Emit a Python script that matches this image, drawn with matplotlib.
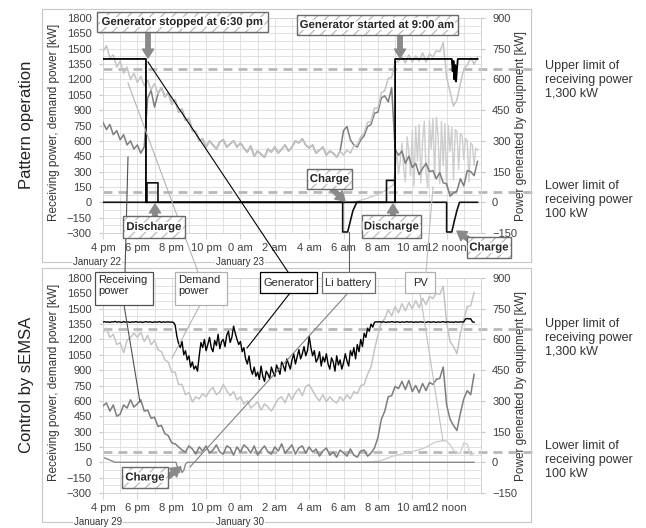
import numpy as np
import matplotlib
matplotlib.use('Agg')
import matplotlib.pyplot as plt
from matplotlib.patches import Rectangle, FancyArrowPatch
from matplotlib.lines import Line2D
from matplotlib.ticker import MultipleLocator
import matplotlib.patheffects as pe
import matplotlib.transforms as mtrans

plt.rcParams['font.family'] = ['Liberation Sans', 'DejaVu Sans']

# hours after 4 pm
hour_ticks = [0, 2, 4, 6, 8, 10, 12, 14, 16, 18, 20]
hour_labels = ['4 pm', '6 pm', '8 pm', '10 pm', '0 am', '2 am', '4 am',
               '6 am', '8 am', '10 am', '12 noon']

# ---------------- pattern operation (Jan 22-23) ----------------
t_top = np.round(np.arange(0, 21.81, 0.2), 1)
demand_top = [1470, 1530, 1410, 1440, 1320, 1380, 1260, 1320, 1200, 1260,
              1170, 1230, 1140, 1190, 1100, 1160, 1060, 1120, 1030, 1070,
              960, 1000, 880, 910, 800, 820, 700, 690, 600, 620,
              540, 600, 560, 520, 590, 610, 540, 570, 600, 540,
              580, 530, 490, 550, 450, 500, 470, 440, 520, 490,
              540, 480, 520, 560, 500, 540, 600, 580, 620, 560,
              530, 560, 480, 510, 540, 460, 500, 480, 440, 500,
              460, 510, 480, 550, 560, 640, 680, 780, 790, 920,
              920, 1070, 1090, 1210, 1220, 1360, 1380, 1420, 1360, 1440,
              1370, 1430, 1380, 1460, 1370, 1450, 1420, 1480, 1470, 1560,
              1220, 1080, 940, 1000, 1160, 1300, 1340, 1410, 1350, 1420]
recv_top = [780, 710, 760, 660, 700, 610, 660, 560, 600, 520,
            560, 480, 540, 1020, 1090, 930, 1060, 1120, 1030, 1070,
            960, 1000, 880, 910, 800, 820, 700, 690, 600, 620,
            540, 600, 560, 520, 590, 610, 540, 570, 600, 540,
            580, 530, 490, 550, 450, 500, 470, 440, 520, 490,
            540, 480, 520, 560, 500, 540, 600, 580, 620, 560,
            530, 560, 480, 510, 540, 460, 500, 480, 440, 500,
            700, 740, 610, 560, 540, 610, 650, 740, 760, 870,
            880, 1020, 1040, 980, 1120, 520, 460, 500, 380, 450,
            340, 380, 270, 330, 380, 300, 310, 230, 290, 190,
            180, 60, 90, 110, 230, 160, 310, 300, 260, 400]
pv_top_t = np.concatenate([[14.6, 15.4, 16.2, 16.9], np.round(np.arange(17.0, 21.85, 0.1), 1)])
pv_top = [0, 20, 45, 85,
          170, 240, 140, 200, 290, 160, 100, 320, 250, 130,
          350, 80, 370, 200, 380, 95, 300, 395, 150, 70,
          400, 260, 410, 120, 415, 330, 90, 395, 180, 385,
          70, 375, 250, 365, 110, 355, 345, 160, 335, 325,
          210, 312, 300, 100, 290, 280, 180, 265, 255]
gen_top_t = [0, 2.5, 2.5, 17.0, 17.0, 20.3, 20.35, 20.4, 20.45, 20.5, 20.55, 20.6, 20.65, 21.8]
gen_top = [700, 700, 0, 0, 700, 700, 640, 690, 600, 670, 590, 650, 700, 700]
bat_top_t = [0, 2.56, 2.56, 3.2, 3.2, 13.95, 13.95, 14.24, 14.4, 14.55, 14.77,
             16.5, 16.5, 17.0, 17.0, 20.0, 20.0, 20.3, 20.45, 20.6, 20.75, 21.8]
bat_top = [0, 0, 95, 95, 0, 0, -145, -145, -90, -40, 0,
           0, 107, 107, 0, 0, -145, -145, -90, -40, 0, 0]

# ---------------- control by sEMSA (Jan 29-30) ----------------
t_bot = np.round(np.arange(0, 21.61, 0.2), 1)
recv_bot = [550, 580, 500, 560, 450, 470, 560, 530, 610, 540,
            570, 610, 500, 510, 430, 440, 350, 360, 280, 260,
            190, 180, 150, 120, 100, 160, 130, 80, 150, 110,
            160, 90, 120, 170, 100, 80, 160, 140, 70, 150,
            100, 170, 140, 90, 160, 70, 120, 160, 100, 80,
            150, 110, 180, 90, 130, 170, 80, 140, 160, 90,
            150, 100, 130, 60, 110, 140, 70, 100, 50, 120,
            90, 60, 130, 70, 50, 110, 120, 60, 90, 140,
            240, 420, 500, 640, 650, 740, 720, 790, 710, 800,
            690, 750, 680, 770, 700, 780, 760, 810, 820, 930,
            560, 420, 360, 310, 480, 620, 700, 660, 860]
demand_bot = [1270, 1310, 1220, 1250, 1150, 1170, 1070, 1190, 1220, 1260,
              1220, 1270, 1180, 1240, 1150, 1190, 1100, 1080, 1000, 980,
              880, 880, 760, 760, 660, 680, 590, 640, 620, 670,
              640, 700, 730, 660, 690, 760, 700, 650, 690, 610,
              640, 570, 600, 530, 560, 590, 510, 570, 540, 500,
              560, 620, 640, 580, 670, 610, 680, 720, 650, 740,
              760, 700, 640, 600, 660, 590, 640, 600, 580, 640,
              600, 660, 620, 690, 670, 750, 760, 860, 930, 1100,
              1240, 1370, 1400, 1490, 1430, 1520, 1460, 1550, 1480, 1560,
              1500, 1580, 1510, 1600, 1540, 1620, 1600, 1650, 1640, 1720,
              1360, 1180, 1130, 1060, 1260, 1390, 1520, 1530, 1660]
gen_bot_t = np.round(np.arange(0, 21.61, 0.1), 1)
gen_bot = [685, 687, 684, 686, 683, 686, 685, 688, 684, 686,
           685, 683, 687, 684, 686, 685, 683, 686, 684, 687,
           685, 684, 686, 683, 685, 687, 684, 686, 685, 683,
           686, 684, 685, 687, 683, 686, 684, 685, 686, 684,
           685, 683, 670, 615, 580, 560, 590, 525, 545, 500,
           520, 465, 490, 455, 470, 445, 520, 585, 560, 600,
           545, 575, 610, 560, 540, 595, 570, 625, 555, 590,
           600, 565, 620, 640, 585, 610, 665, 630, 600, 575,
           590, 540, 560, 505, 480, 520, 455, 430, 465, 420,
           440, 405, 470, 420, 395, 445, 430, 410, 465, 440,
           420, 475, 455, 430, 490, 470, 445, 505, 480, 455,
           500, 530, 480, 515, 550, 505, 530, 565, 520, 545,
           615, 560, 520, 545, 490, 505, 540, 470, 515, 490,
           530, 480, 455, 510, 490, 445, 520, 475, 500, 455,
           485, 530, 495, 470, 545, 520, 560, 505, 575, 540,
           600, 565, 630, 610, 655, 640, 675, 660, 684, 686,
           685, 687, 684, 686, 685, 683, 686, 684, 687, 685,
           684, 686, 685, 683, 686, 684, 685, 687, 684, 686,
           685, 683, 686, 684, 685, 686, 684, 685, 683, 686,
           685, 684, 686, 685, 683, 686, 684, 685, 687, 684,
           685, 686, 684, 685, 683, 686, 685, 684, 686, 685,
           686, 700, 702, 700, 701, 686, 684]
pv_bot_t = np.round(np.arange(15.2, 21.61, 0.2), 1)
pv_bot = [0, 1, 2, 4, 6, 9, 15, 22, 28, 33, 36, 41, 44, 49, 52, 57, 62,
          67, 74, 83, 92, 100, 103, 106, 104, 85, 60, 45, 44, 95, 88, 36, 44]
bat_bot_t = [0, 0.7, 4.25, 4.35, 4.45, 4.5, 4.6, 4.7, 4.8, 4.9, 21.6]
bat_bot = [25, 0, 0, -30, -50, -20, -50, -40, -10, 0, 0]

W, H = 646, 528
fig = plt.figure(figsize=(W / 100, H / 100), dpi=100)


def fx(x):
    return x / W


def fy(y):
    return 1 - y / H


tick_col = '#404040'


def setup(ax):
    ax.set_xlim(0, 22)
    ax.set_ylim(-300, 1800)
    ax.set_yticks(np.arange(-300, 1801, 150))
    ax.set_xticks(hour_ticks)
    ax.set_xticklabels(hour_labels)
    ax.xaxis.set_minor_locator(MultipleLocator(1))
    ax.yaxis.set_minor_locator(MultipleLocator(75))
    ax.grid(which='both', color='#dcdcdc', lw=0.6)
    ax.set_axisbelow(True)
    for s in ax.spines.values():
        s.set_color('#d4d4d4')
        s.set_linewidth(0.7)
    ax.tick_params(axis='y', length=3, color='#c8c8c8', pad=5, labelsize=8, labelcolor=tick_col)
    ax.tick_params(axis='x', length=4, color='#d4d4d4', pad=3, labelsize=8, labelcolor=tick_col)
    ax.tick_params(which='minor', length=0)
    ax2 = ax.twinx()
    ax2.set_ylim(-150, 900)
    ax2.set_yticks(np.arange(-150, 901, 150))
    for s in ax2.spines.values():
        s.set_visible(False)
    ax2.tick_params(axis='y', length=3, color='#c8c8c8', pad=5, labelsize=8, labelcolor=tick_col)
    # limit lines, running out past the right axis
    tr = mtrans.blended_transform_factory(ax.transAxes, ax.transData)
    for lim in (1300, 100):
        ax.plot([0, 1.151], [lim, lim], transform=tr, clip_on=False, color='#b8b8b8',
                lw=2, dashes=(3.2, 2.2), zorder=1.8)
    return ax2


ax_top = fig.add_axes([fx(103), fy(233), 378 / W, 215 / H])
ax_bot = fig.add_axes([fx(103), fy(493), 378 / W, 215 / H])
r_top = setup(ax_top)
r_bot = setup(ax_bot)

# top panel
ax_top.plot(pv_top_t, pv_top, color='#cdcdcd', lw=1.0, transform=r_top.transData, zorder=2)
ax_top.plot(t_top, recv_top, color='#7d7d7d', lw=1.1, zorder=3)
ax_top.plot(t_top, demand_top, color='#c4c4c4', lw=1.1, zorder=4)
ax_top.plot(bat_top_t, bat_top, color='#111111', lw=1.2, transform=r_top.transData, zorder=5)
ax_top.plot(gen_top_t, gen_top, color='black', lw=1.3, transform=r_top.transData, zorder=6)

# bottom panel
ax_bot.plot(pv_bot_t, pv_bot, color='#cfcfcf', lw=1.0, transform=r_bot.transData, zorder=2)
ax_bot.plot(bat_bot_t, bat_bot, color='#8a8a8a', lw=1.0, transform=r_bot.transData, zorder=2.5)
ax_bot.plot(t_bot, demand_bot, color='#c4c4c4', lw=1.1, zorder=3)
ax_bot.plot(t_bot, recv_bot, color='#7d7d7d', lw=1.1, zorder=4)
ax_bot.plot(gen_bot_t, gen_bot, color='black', lw=1.0, transform=r_bot.transData, zorder=6)

# panel frames
for y0, y1 in ((9, 262), (268, 522)):
    fig.add_artist(Rectangle((fx(42), fy(y1)), fx(531) - fx(42), fy(y0) - fy(y1),
                             transform=fig.transFigure, fill=False, ec='#c8c8c8', lw=0.8, zorder=1))

# axis titles
for yc, name in ((125, 'Pattern operation'), (385, 'Control by sEMSA')):
    fig.text(fx(26), fy(yc), name, rotation=90, fontsize=12, ha='center', va='center', color='#222222')
for yc in (122, 382):
    fig.text(fx(54), fy(yc), 'Receiving power, demand power [kW]', rotation=90, fontsize=8.5,
             ha='center', va='center', color='#333333')
    fig.text(fx(521), fy(yc + 4), 'Power generated by equipment [kW]', rotation=90, fontsize=8.5,
             ha='center', va='center', color='#333333')

# dates
for (x, y, s) in ((97, 262, 'January 22'), (240, 262, 'January 23'),
                  (98, 522, 'January 29'), (240, 522, 'January 30')):
    fig.text(fx(x), fy(y), s, fontsize=7, ha='center', va='center', color='#333333',
             bbox=dict(fc='white', ec='none', pad=1), zorder=3)

# limit notes
for ytop, s in ((60, 'Upper limit of\nreceiving power\n1,300 kW'),
                (180, 'Lower limit of\nreceiving power\n100 kW'),
                (318, 'Upper limit of\nreceiving power\n1,300 kW'),
                (440, 'Lower limit of\nreceiving power\n100 kW')):
    fig.text(fx(545), fy(ytop), s, fontsize=9, va='top', ha='left', linespacing=1.2, color='#333333')


def fig_line(pts, color, lw=0.8):
    fig.add_artist(Line2D([fx(p[0]) for p in pts], [fy(p[1]) for p in pts],
                          transform=fig.transFigure, color=color, lw=lw, zorder=4))


def block_arrow(x0, y0, x1, y1):
    fig.add_artist(FancyArrowPatch((fx(x0), fy(y0)), (fx(x1), fy(y1)), transform=fig.transFigure,
                                   arrowstyle='simple,head_length=0.8,head_width=1.0,tail_width=0.4',
                                   mutation_scale=8, color='#8a8a8a', shrinkA=0, shrinkB=0, zorder=5))


def hatch_box(x0, y0, x1, y1, text):
    xy = (fx(x0), fy(y1))
    w, h = fx(x1) - fx(x0), fy(y0) - fy(y1)
    fig.add_artist(Rectangle(xy, w, h, transform=fig.transFigure, fc='white', ec='#c0c0c0',
                             hatch='///', lw=0, zorder=6))
    fig.add_artist(Rectangle(xy, w, h, transform=fig.transFigure, fill=False, ec='#6a6a6a',
                             lw=1.0, zorder=6.5))
    fig.text(fx((x0 + x1) / 2), fy((y0 + y1) / 2), text, fontsize=8.2, fontweight='bold',
             ha='center', va='center', color='#262626', zorder=7,
             path_effects=[pe.withStroke(linewidth=3, foreground='white')])


def label_box(x0, y0, x1, y1, text, ec, centered=False):
    fig.add_artist(Rectangle((fx(x0), fy(y1)), fx(x1) - fx(x0), fy(y0) - fy(y1),
                             transform=fig.transFigure, fc='white', ec=ec, lw=0.9, zorder=6))
    if centered:
        fig.text(fx((x0 + x1) / 2), fy((y0 + y1) / 2), text, fontsize=8, ha='center', va='center',
                 color='#262626', zorder=7)
    else:
        fig.text(fx(x0 + 3), fy(y0 + 3), text, fontsize=8, ha='left', va='top',
                 linespacing=1.15, color='#262626', zorder=7)


# leader lines
fig_line([(128, 157), (125, 272)], '#505050')
fig_line([(124, 305), (140, 402)], '#505050')
fig_line([(128, 83), (198, 272)], '#b4b4b4')
fig_line([(200, 305), (172, 358)], '#b4b4b4')
fig_line([(148, 62), (288, 272)], 'black')
fig_line([(290, 293), (247, 348)], 'black')
fig_line([(349, 232), (349, 272)], '#606060')
fig_line([(348, 293), (190, 467)], '#808080')
fig_line([(433, 187), (426, 272)], '#c0c0c0')
fig_line([(420, 293), (443, 441)], '#c0c0c0')

label_box(95, 272, 153, 305, 'Receiving\npower', '#505050')
label_box(175, 272, 227, 305, 'Demand\npower', '#b0b0b0')
label_box(260, 272, 317, 293, 'Generator', 'black', centered=True)
label_box(322, 272, 375, 293, 'Li battery', '#707070', centered=True)
label_box(405, 272, 435, 293, 'PV', '#b0b0b0', centered=True)

# callouts
block_arrow(148, 32, 148, 58)
block_arrow(400, 35, 400, 58)
block_arrow(155, 216, 155, 204)
block_arrow(332, 189, 345, 201)
block_arrow(393, 215, 393, 204)
block_arrow(472, 242, 457, 231)
block_arrow(168, 477, 180, 467)

hatch_box(97, 12, 268, 32, 'Generator stopped at 6:30 pm')
hatch_box(297, 15, 458, 35, 'Generator started at 9:00 am')
hatch_box(123, 216, 185, 238, 'Discharge')
hatch_box(307, 169, 352, 189, 'Charge')
hatch_box(362, 215, 421, 238, 'Discharge')
hatch_box(467, 237, 511, 258, 'Charge')
hatch_box(122, 467, 168, 488, 'Charge')

fig.savefig('out.png', dpi=100)
